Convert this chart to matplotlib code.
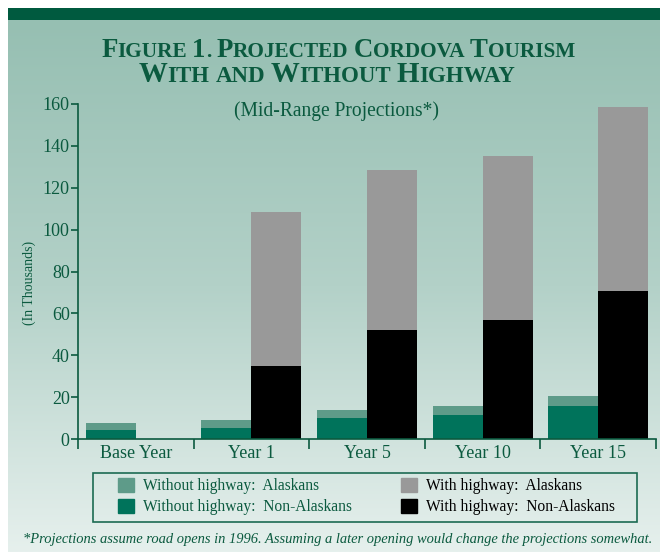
import matplotlib
matplotlib.use("Agg")
import matplotlib.pyplot as plt
import numpy as np
from matplotlib.colors import LinearSegmentedColormap
from matplotlib.patches import Patch, Rectangle

# 데이터 (천 명 단위)
categories = ["Base Year", "Year 1", "Year 5", "Year 10", "Year 15"]
without_non_alaskans = [4.3, 5.4, 10.2, 11.5, 15.8]
without_alaskans = [3.5, 3.7, 3.6, 4.3, 4.7]
with_non_alaskans = [0, 35.0, 52.0, 57.0, 70.7]
with_alaskans = [0, 73.4, 76.5, 78.1, 87.8]
y_ticks = [0, 20, 40, 60, 80, 100, 120, 140, 160]

GREEN_TEXT = "#0b5a3f"
LIGHT_GREEN = "#5e9b89"
DARK_GREEN = "#00735b"
GRAY = "#999999"
SERIF = ["Liberation Serif", "DejaVu Serif"]

W, H = 660, 552
fig = plt.figure(figsize=(W / 100, H / 100), dpi=100)
fig.patch.set_facecolor("white")
renderer = fig.canvas.get_renderer()


def fx(px):
    return px / W


def fy(py):
    return 1 - py / H


def fit_width(t, target_w):
    """텍스트 폭을 목표 픽셀 폭에 맞춰 글자 크기 조정."""
    w = t.get_window_extent(renderer).width
    t.set_fontsize(t.get_fontsize() * target_w / w)


# 배경 그라데이션
bg = fig.add_axes([fx(8), 0, fx(652), 1 - 20 / H], zorder=-10)
cmap = LinearSegmentedColormap.from_list("bg", ["#96bfb2", "#b3d1c8", "#e6f0ed"])
bg.imshow(np.linspace(0, 1, 256).reshape(-1, 1), aspect="auto", cmap=cmap,
          extent=[0, 1, 0, 1])
bg.axis("off")
fig.patches.append(Rectangle((fx(8), fy(20)), 1, 12 / H, transform=fig.transFigure,
                             facecolor="#005a3f", edgecolor="none", zorder=-5))

# 메인 차트
ax = fig.add_axes([fx(78), fy(439), fx(656) - fx(78), fy(104) - fy(439)])
ax.set_facecolor("none")
x = np.arange(len(categories))
bw = 0.433

ax.bar(x - bw, without_non_alaskans, bw, align="edge", color=DARK_GREEN)
ax.bar(x - bw, without_alaskans, bw, bottom=without_non_alaskans, align="edge",
       color=LIGHT_GREEN)
ax.bar(x, with_non_alaskans, bw, align="edge", color="black")
ax.bar(x, with_alaskans, bw, bottom=with_non_alaskans, align="edge", color=GRAY)

ax.set_xlim(-0.5, len(categories) - 0.5)
ax.set_ylim(0, 160)
ax.set_yticks(y_ticks)
ax.set_xticks(x)
ax.set_xticklabels(categories)
ax.set_xticks(np.arange(-0.5, len(categories)), minor=True)
for s in ["top", "right"]:
    ax.spines[s].set_visible(False)
for s in ["left", "bottom"]:
    ax.spines[s].set_color(GREEN_TEXT)
    ax.spines[s].set_linewidth(1.2)
ax.tick_params(axis="y", direction="out", length=5, width=1.2, color=GREEN_TEXT,
               labelcolor=GREEN_TEXT, labelsize=13, pad=1)
ax.tick_params(axis="x", which="major", length=0, labelcolor=GREEN_TEXT,
               labelsize=13, pad=4)
ax.tick_params(axis="x", which="minor", direction="out", length=7, width=1.2,
               color=GREEN_TEXT)
for lab in ax.get_xticklabels() + ax.get_yticklabels():
    lab.set_family(SERIF)
ax.set_ylabel("(In Thousands)", family=SERIF, fontsize=10, color=GREEN_TEXT)
ax.yaxis.set_label_coords((36 - 78) / 578, (439 - 283) / 335)


def small_caps(cx, baseline, text, big, small, target_w):
    """작은 대문자 제목: 대문자/숫자는 크게, 나머지는 작은 대문자로."""
    pieces = []
    for word in text.split(" "):
        head = word[0]
        if head.isupper() or head.isdigit():
            pieces.append((head, big))
            if len(word) > 1:
                pieces.append((word[1:].upper(), small))
        else:
            pieces.append((word.upper(), small))
        pieces.append((None, small))
    pieces = pieces[:-1]
    arts = []
    for s, size in pieces:
        if s is None:
            arts.append((None, size))
            continue
        t = fig.text(0, fy(baseline), s, fontsize=size, family=SERIF,
                     weight="bold", color=GREEN_TEXT, va="baseline", ha="left")
        arts.append((t, size))

    def widths(scale):
        out = []
        for t, size in arts:
            if t is None:
                out.append(size * scale * 0.25 * 100 / 72)
            else:
                t.set_fontsize(size * scale)
                out.append(t.get_window_extent(renderer).width)
        return out

    ws = widths(1.0)
    ws = widths(target_w / sum(ws))
    xpos = cx - sum(ws) / 2
    for (t, _), w in zip(arts, ws):
        if t is not None:
            t.set_x(fx(xpos))
        xpos += w


small_caps(338, 57, "Figure 1. Projected Cordova Tourism", 24, 19, 474)
small_caps(327, 82, "With and Without Highway", 24, 19, 376)
sub = fig.text(fx(337), fy(111), "(Mid-Range Projections*)", family=SERIF,
               fontsize=14, color=GREEN_TEXT, ha="center", va="center")
fit_width(sub, 206)

# 범례
fig.patches.append(Rectangle((fx(93), fy(522)), fx(637) - fx(93), fy(473) - fy(522),
                             transform=fig.transFigure, facecolor="none",
                             edgecolor="#1c6b52", linewidth=1.2, zorder=5))
leg_kw = dict(frameon=False, handlelength=1.05, handleheight=1.0,
              handletextpad=0.55, labelspacing=0.3, borderpad=0, borderaxespad=0,
              prop={"family": SERIF, "size": 11.2})
leg1 = fig.legend([Patch(color=LIGHT_GREEN), Patch(color=DARK_GREEN)],
                  ["Without highway:  Alaskans", "Without highway:  Non-Alaskans"],
                  loc="upper left", bbox_to_anchor=(fx(118), fy(478)), **leg_kw)
for t in leg1.get_texts():
    t.set_color(GREEN_TEXT)
leg2 = fig.legend([Patch(color=GRAY), Patch(color="black")],
                  ["With highway:  Alaskans", "With highway:  Non-Alaskans"],
                  loc="upper left", bbox_to_anchor=(fx(401), fy(478)), **leg_kw)
for t in leg2.get_texts():
    t.set_color("black")

note = fig.text(fx(338), fy(540),
                "*Projections assume road opens in 1996. Assuming a later opening "
                "would change the projections somewhat.",
                family=SERIF, style="italic", fontsize=10.8, color=GREEN_TEXT,
                ha="center", va="center")
fit_width(note, 630)

fig.savefig("out.png", dpi=100)
